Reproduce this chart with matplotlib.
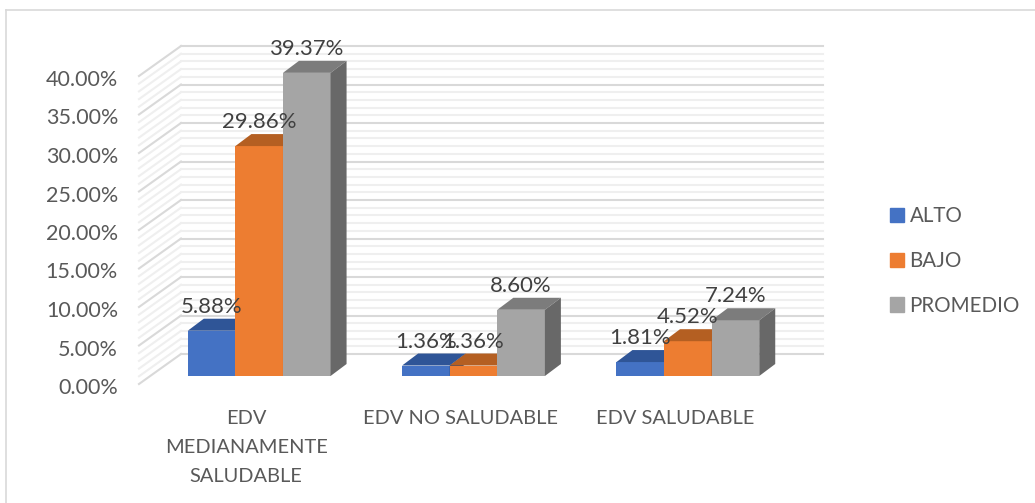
import numpy as np
import matplotlib
matplotlib.use('Agg')
import matplotlib.pyplot as plt
from matplotlib.colors import to_rgb
from matplotlib.lines import Line2D
from matplotlib.patches import Patch

categories = ['EDV\nMEDIANAMENTE\nSALUDABLE', 'EDV NO SALUDABLE', 'EDV SALUDABLE']
alto = [5.88, 1.36, 1.81]
bajo = [29.86, 1.36, 4.52]
promedio = [39.37, 8.60, 7.24]
series_names = ['ALTO', 'BAJO', 'PROMEDIO']
y_ticks = [0, 5, 10, 15, 20, 25, 30, 35, 40]

colors = ['#4472C4', '#ED7D31', '#A5A5A5']
tops = ['#2F5597', '#B45F22', '#7C7C7C']
text_dark = '#404040'
text_axis = '#595959'

W, H = 1035, 503
PX_X = 643 / 3     # pixels per category
PX_Y = 7.7         # pixels per percent
BAR_W = 47.6 / PX_X


def dx(px):
    return px / PX_X


def dy(px):
    return px / PX_Y


plt.rcParams['font.family'] = ['Lato', 'DejaVu Sans']
fig = plt.figure(figsize=(W / 100, H / 100), dpi=100)
ax = fig.add_axes([152 / W, (H - 376) / H, 643 / W, 40 * PX_Y / H])
ax.set_xlim(-0.5, 2.5)
ax.set_ylim(0, 40)
ax.axis('off')

# outer frame
fig.add_artist(Line2D([6 / W, 6 / W], [0, 1 - 10 / H], color='#d9d9d9', lw=1.2))
fig.add_artist(Line2D([6 / W, 1], [1 - 10 / H, 1 - 10 / H], color='#d9d9d9', lw=1.2))

# walls: back wall lines plus diagonals on the left side
x_front = -0.5 + dx(-13)
x_back = -0.5 + dx(29)
x_end = 2.5 + dx(28)
for v in range(0, 41):
    major = v % 5 == 0
    c = '#d9d9d9' if major else '#efefef'
    z = 2 if major else 1
    ax.plot([x_front, x_back], [v + dy(-8), v + dy(22)], color=c, lw=1.5, zorder=z, clip_on=False)
    ax.plot([x_back, x_end], [v + dy(22), v + dy(22)], color=c, lw=1.5, zorder=z, clip_on=False)

# bars, front face first and then the top and side faces
x = np.arange(len(categories))
depth_x = dx(16)
depth_y = dy(12)
for i, vals in enumerate([alto, bajo, promedio]):
    pos = x + (i - 1) * BAR_W
    side = tuple(c * 0.63 for c in to_rgb(colors[i]))
    z = 5 + i
    ax.bar(pos, vals, width=BAR_W, color=colors[i], zorder=z, clip_on=False)
    for p, v in zip(pos, vals):
        l, r = p - BAR_W / 2, p + BAR_W / 2
        ax.fill([l, r, r + depth_x, l + depth_x], [v, v, v + depth_y, v + depth_y],
                color=tops[i], lw=0, zorder=z, clip_on=False)
        ax.fill([r, r + depth_x, r + depth_x, r], [0, depth_y, v + depth_y, v],
                color=side, lw=0, zorder=z, clip_on=False)

# data labels
for i, vals in enumerate([alto, bajo, promedio]):
    pos = x + (i - 1) * BAR_W
    for p, v in zip(pos, vals):
        ax.text(p, v + dy(24), f'{v:.2f}%', ha='center', va='center',
                fontsize=15.9, color=text_dark, zorder=20, clip_on=False)

# axis labels
for v in y_ticks:
    ax.text(x_front + dx(-21), v + dy(-12), f'{v:.2f}%', ha='right', va='center',
            fontsize=15.5, color=text_axis, clip_on=False)
for p, name in zip(x, categories):
    ax.text(p + dx(-13), dy(-34), name, ha='center', va='top', fontsize=14.4,
            color=text_axis, linespacing=1.85, clip_on=False)

handles = [Patch(color=c) for c in colors]
fig.legend(handles, series_names, loc='center left', bbox_to_anchor=(871 / W, 1 - 261 / H),
           frameon=False, fontsize=14.8, labelcolor=text_axis, handlelength=0.7,
           handleheight=0.7, handletextpad=0.27, labelspacing=1.2)

fig.savefig('out.png', dpi=100)
